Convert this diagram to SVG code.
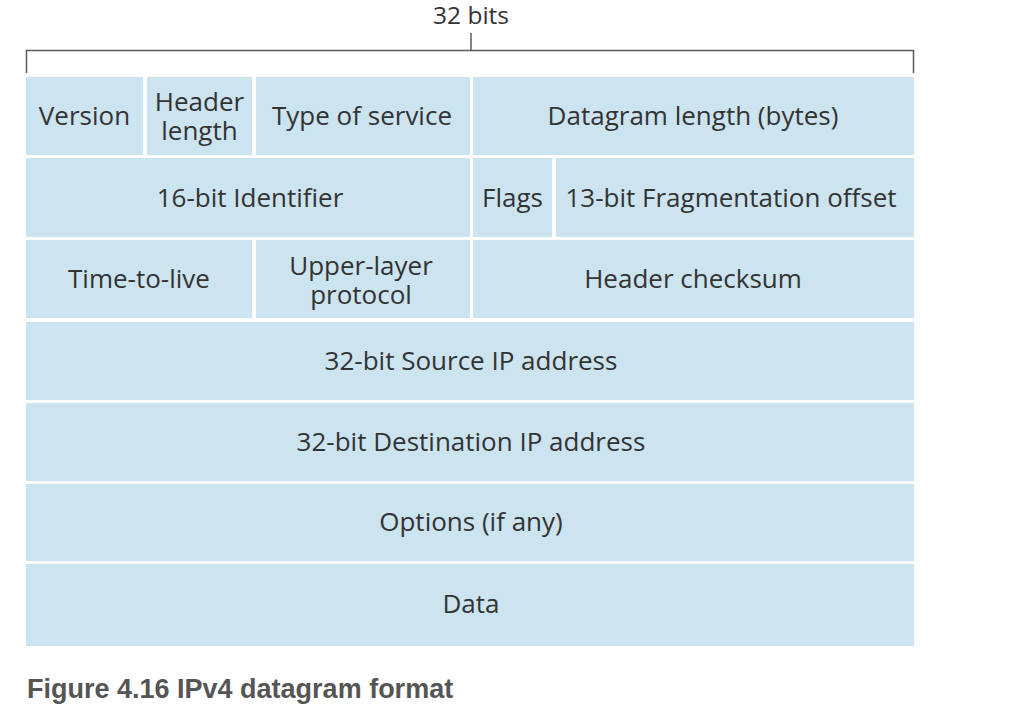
<svg xmlns="http://www.w3.org/2000/svg" width="1026" height="720" viewBox="0 0 1026 720">
  <style>
    .cell { fill: #cce3f0; }
    .lbl { font-family: "Open Sans", "Noto Sans", sans-serif; font-size: 26px; fill: #333333; text-anchor: middle; }
    .brace { stroke: #5a5a5a; stroke-width: 1.5; fill: none; }
    .cap { font-family: "Liberation Sans", Arial, sans-serif; font-weight: bold; font-size: 27px; fill: #555555; }
  </style>
  <rect width="1026" height="720" fill="#ffffff"/>

  <!-- width indicator: 32 bits -->
  <g id="width-bracket">
    <text class="lbl" x="471" y="24" style="font-size:24.5px">32 bits</text>
    <path class="brace" d="M26.5,73 V50.5 H913.5 V73"/>
    <path class="brace" d="M471,33 V50.5"/>
  </g>

  <!-- row 1 -->
  <g id="version">
    <rect class="cell" x="26" y="77" width="117" height="78"/>
    <text class="lbl" x="84.5" y="125">Version</text>
  </g>
  <g id="header-length">
    <rect class="cell" x="147" y="77" width="105" height="78"/>
    <text class="lbl" x="199.5" y="111">Header<tspan x="199.5" dy="29">length</tspan></text>
  </g>
  <g id="type-of-service">
    <rect class="cell" x="256" y="77" width="214" height="78"/>
    <text class="lbl" x="362" y="125">Type of service</text>
  </g>
  <g id="datagram-length">
    <rect class="cell" x="473" y="77" width="441" height="78"/>
    <text class="lbl" x="693" y="125">Datagram length (bytes)</text>
  </g>

  <!-- row 2 -->
  <g id="identifier">
    <rect class="cell" x="26" y="158" width="444" height="79"/>
    <text class="lbl" x="250" y="207">16-bit Identifier</text>
  </g>
  <g id="flags">
    <rect class="cell" x="473" y="158" width="79" height="79"/>
    <text class="lbl" x="512.5" y="207">Flags</text>
  </g>
  <g id="fragment-offset">
    <rect class="cell" x="556" y="158" width="358" height="79"/>
    <text class="lbl" x="731" y="207">13-bit Fragmentation offset</text>
  </g>

  <!-- row 3 -->
  <g id="time-to-live">
    <rect class="cell" x="26" y="240" width="226" height="78"/>
    <text class="lbl" x="139" y="288">Time-to-live</text>
  </g>
  <g id="upper-layer-protocol">
    <rect class="cell" x="256" y="240" width="214" height="78"/>
    <text class="lbl" x="361" y="275">Upper-layer<tspan x="361" dy="29">protocol</tspan></text>
  </g>
  <g id="header-checksum">
    <rect class="cell" x="473" y="240" width="441" height="78"/>
    <text class="lbl" x="693" y="288">Header checksum</text>
  </g>

  <!-- rows 4-7 -->
  <g id="source-address">
    <rect class="cell" x="26" y="322" width="888" height="78"/>
    <text class="lbl" x="471" y="370">32-bit Source IP address</text>
  </g>
  <g id="destination-address">
    <rect class="cell" x="26" y="403" width="888" height="78"/>
    <text class="lbl" x="471" y="451">32-bit Destination IP address</text>
  </g>
  <g id="options">
    <rect class="cell" x="26" y="484" width="888" height="77"/>
    <text class="lbl" x="471" y="531">Options (if any)</text>
  </g>
  <g id="data">
    <rect class="cell" x="26" y="564" width="888" height="82"/>
    <text class="lbl" x="471" y="613">Data</text>
  </g>

  <!-- no connectors in this figure -->
  <g id="connectors"/>

  <text class="cap" x="27" y="698">Figure 4.16 IPv4 datagram format</text>
</svg>
